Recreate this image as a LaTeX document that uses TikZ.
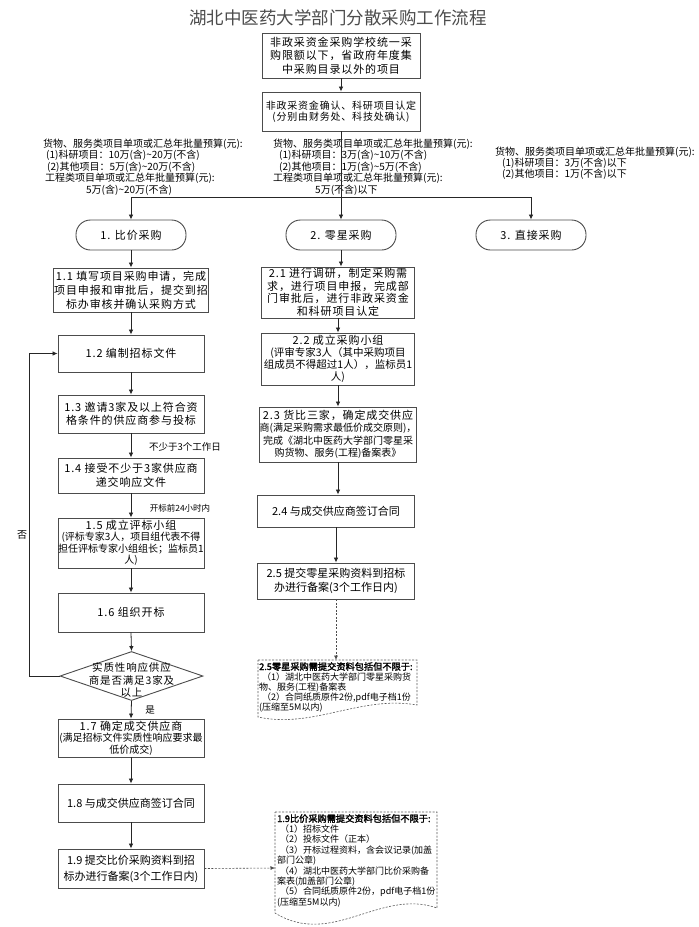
\documentclass[tikz,border=0pt]{standalone}
\usepackage{fontspec}
\usetikzlibrary{arrows.meta,shapes.geometric}
\newfontfamily\cjk{Noto Sans CJK SC}[AutoFakeBold=2]
\newfontfamily\cjks{Noto Sans CJK SC}[LetterSpace=8]
\newcommand\myfs[2]{\fontsize{#1}{#2}\selectfont}
\begin{document}
\begin{tikzpicture}[x=1pt,y=-1pt,
  box/.style={draw=black!70, line width=0.9pt, fill=white, rectangle, inner sep=0pt, align=center},
  oval/.style={draw=black!70, line width=0.9pt, fill=white, rounded corners=14.5pt, minimum width=110pt, minimum height=30pt, inner sep=0pt, font={\cjks\myfs{11}{13}}},
  txt/.style={align=left, inner sep=0pt, font={\cjk\myfs{10}{11.5}}},
  lbl/.style={inner sep=0pt, font={\cjk\myfs{9.5}{11}}},
  ntxt/.style={align=left, inner sep=0pt, font={\cjk\myfs{9}{10.4}}},
  arr/.style={line width=0.8pt, draw=black!85, -{Latex[length=5pt,width=4.5pt]}},
  plainline/.style={line width=0.8pt, draw=black!85},
  dasharr/.style={line width=0.6pt, draw=black!70, dash pattern=on 2pt off 1.5pt, -{Latex[length=4.5pt,width=4pt]}},
  notebox/.style={draw=black!65, line width=0.6pt, dash pattern=on 2pt off 1.5pt, fill=white}
]
\fill[white] (0,0) rectangle (699,927);
\useasboundingbox (0,0) rectangle (699,927);

% title
\node[font={\cjk\myfs{17.5}{20}}, text=black!70, inner sep=0pt] (title) at (338,18) {湖北中医药大学部门分散采购工作流程};

% top boxes
\node[box, minimum width=158pt, minimum height=45pt, font={\cjks\myfs{11}{13.5}}] (A) at (341,55.5) {非政采资金采购学校统一采\\购限额以下，省政府年度集\\中采购目录以外的项目};
\node[box, minimum width=158pt, minimum height=39pt, font={\cjks\myfs{10}{11}}] (B) at (341,111.5) {非政采资金确认、科研项目认定\\(分别由财务处、科技处确认)};

% condition texts
\node[txt, anchor=west] (tl) at (43,167) {货物、服务类项目单项或汇总年批量预算(元):\\\hspace*{3pt}(1)科研项目：10万(含)\textasciitilde20万(不含)\\\hspace*{4pt}(2)其他项目：5万(含)\textasciitilde20万(不含)\\\hspace*{2pt}工程类项目单项或汇总年批量预算(元):\\\hspace*{43pt}5万(含)\textasciitilde20万(不含)};
\node[txt, anchor=west] (tm) at (273,167) {货物、服务类项目单项或汇总年批量预算(元):\\\hspace*{6pt}(1)科研项目：3万(含)\textasciitilde10万(不含)\\\hspace*{6pt}(2)其他项目：1万(含)\textasciitilde5万(不含)\\工程类项目单项或汇总年批量预算(元):\\\hspace*{42pt}5万(不含)以下};
\node[txt, anchor=west, font={\cjk\myfs{10}{11}}] (tr) at (495,163) {货物、服务类项目单项或汇总年批量预算(元):\\\hspace*{7pt}(1)科研项目：3万(不含)以下\\\hspace*{7pt}(2)其他项目：1万(不含)以下};

% ovals
\node[oval] (o1) at (131,235) {1. 比价采购};
\node[oval] (o2) at (341,235) {2. 零星采购};
\node[oval] (o3) at (531,235) {3. 直接采购};

% left column
\node[box, minimum width=155pt, minimum height=44pt, font={\cjks\myfs{11}{14}}] (b11) at (131,290) {1.1 填写项目采购申请，完成\\项目申报和审批后，提交到招\\标办审核并确认采购方式};
\node[box, minimum width=146pt, minimum height=37pt, font={\cjks\myfs{11}{14}}] (b12) at (131,353.5) {1.2 编制招标文件};
\node[box, minimum width=146pt, minimum height=38pt, font={\cjks\myfs{11}{13.5}}] (b13) at (131,414) {1.3 邀请3家及以上符合资\\格条件的供应商参与投标};
\node[box, minimum width=146pt, minimum height=35pt, font={\cjks\myfs{11}{14}}] (b14) at (131,475.5) {1.4 接受不少于3家供应商\\递交响应文件};
\node[box, minimum width=146pt, minimum height=50pt, font={\cjk\myfs{10}{11.5}}] (b15) at (131,543) {{\cjks\myfs{11}{13}1.5 成立评标小组}\\(评标专家3人，项目组代表不得\\担任评标专家小组组长；监标员1\\人)};
\node[box, minimum width=146pt, minimum height=39pt, font={\cjks\myfs{11}{14}}] (b16) at (131,612.5) {1.6 组织开标};
\node[draw=black!70, line width=0.9pt, fill=white, diamond, minimum width=143pt, minimum height=49pt, inner sep=0pt] (d) at (131.5,676) {};
\node[font={\cjks\myfs{10.5}{12.5}}, align=center, inner sep=0pt] (dt) at (131.5,680) {实质性响应供应\\商是否满足3家及\\以上};
\node[box, minimum width=146pt, minimum height=38pt, font={\cjk\myfs{10}{11.5}}] (b17) at (131,738) {{\cjks\myfs{11}{13}1.7 确定成交供应商}\\(满足招标文件实质性响应要求最\\低价成交)};
\node[box, minimum width=146pt, minimum height=38pt, font={\cjk\myfs{11}{14}}] (b18) at (131,803) {1.8 与成交供应商签订合同};
\node[box, minimum width=146pt, minimum height=39pt, font={\cjk\myfs{11}{16}}] (b19) at (131,868.5) {1.9 提交比价采购资料到招\\标办进行备案(3个工作日内)};

% labels
\node[lbl] (l1) at (185,447) {不少于3个工作日};
\node[lbl, font={\cjk\myfs{8.5}{10}}] (l2) at (180,508) {开标前24小时内};
\node[lbl] (l3) at (150,710) {是};
\node[lbl, font={\cjk\myfs{10}{11}}] (l4) at (22,535) {否};

% middle column
\node[box, minimum width=153pt, minimum height=51pt, font={\cjks\myfs{11}{12.5}}] (b21) at (338,292.5) {2.1 进行调研，制定采购需\\求，进行项目申报，完成部\\门审批后，进行非政采资金\\和科研项目认定};
\node[box, minimum width=153pt, minimum height=52pt, font={\cjk\myfs{10.5}{12}}] (b22) at (338,359) {{\cjks\myfs{11}{13}2.2 成立采购小组}\\(评审专家3人（其中采购项目\\组成员不得超过1人），监标员1\\人)};
\node[box, minimum width=157pt, minimum height=55pt, font={\cjk\myfs{10}{12.5}}] (b23) at (338,434.5) {{\cjks\myfs{11}{13}2.3 货比三家，确定成交供应}\\商(满足采购需求最低价成交原则)，\\完成《湖北中医药大学部门零星采\\购货物、服务(工程)备案表》};
\node[box, minimum width=157pt, minimum height=32pt, font={\cjk\myfs{11}{14}}] (b24) at (336,511) {2.4 与成交供应商签订合同};
\node[box, minimum width=157pt, minimum height=36pt, font={\cjk\myfs{11}{14}}] (b25) at (336,581) {2.5 提交零星采购资料到招标\\办进行备案(3个工作日内)};

% notes
\draw[notebox] (258,660) -- (417,660) -- (417,705) .. controls (361,695) and (313,729) .. (258,717) -- cycle;
\node[ntxt, anchor=north west, font={\cjk\myfs{9}{10}}] (n2) at (259,662) {{\bfseries\myfs{9.2}{10}2.5零星采购需提交资料包括但不限于:}\\\hspace*{3pt}（1）湖北中医药大学部门零星采购货\\物、服务(工程)备案表\\\hspace*{3pt}（2）合同纸质原件2份,pdf电子档1份\\(压缩至5M以内)};
\coordinate (n2in) at (337,660);

\draw[notebox] (275,812) -- (437,812) -- (437,908) .. controls (380,888) and (332,948) .. (275,913) -- cycle;
\node[ntxt, anchor=north west] (n1) at (277,814) {{\bfseries\myfs{9.2}{10.4}1.9比价采购需提交资料包括但不限于:}\\\hspace*{3pt}（1）招标文件\\\hspace*{3pt}（2）投标文件（正本）\\\hspace*{3pt}（3）开标过程资料，含会议记录(加盖\\部门公章)\\\hspace*{3pt}（4）湖北中医药大学部门比价采购备\\案表(加盖部门公章)\\\hspace*{3pt}（5）合同纸质原件2份，pdf电子档1份\\(压缩至5M以内)};
\coordinate (n1in) at (275,868);

% connectors
\draw[arr] (A.south) -- (B.north);
\draw[arr] (B.south) -- (o2.north);
\coordinate (hy) at (0,197);
\draw[plainline] (o1.north|-hy) -- (o3.north|-hy);
\draw[arr] (o1.north|-hy) -- (o1.north);
\draw[arr] (o3.north|-hy) -- (o3.north);

\draw[arr] (o1.south) -- (b11.north);
\draw[arr] (b11.south) -- (b12.north);
\draw[arr] (b12.south) -- (b13.north);
\draw[arr] (b13.south) -- (b14.north);
\draw[arr] (b14.south) -- (b15.north);
\draw[arr] (b15.south) -- (b16.north);
\draw[arr] (b16.south) -- (d.north);
\draw[arr] (d.south) -- (b17.north);
\draw[arr] (d.west) -- ++(-30,0) |- (b12.west);
\draw[arr] (b17.south) -- (b18.north);
\draw[arr] (b18.south) -- (b19.north);
\draw[dasharr] (b19.east) -- (n1in);

\draw[arr] (o2.south) -- (o2.south|-b21.north);
\draw[arr] (b21.south) -- (b22.north);
\draw[arr] (b22.south) -- (b23.north);
\draw[arr] (b23.south) -- (b23.south|-b24.north);
\draw[arr] (b24.south) -- (b25.north);
\draw[dasharr] (b25.south) -- (b25.south|-n2in);
\end{tikzpicture}
\end{document}
